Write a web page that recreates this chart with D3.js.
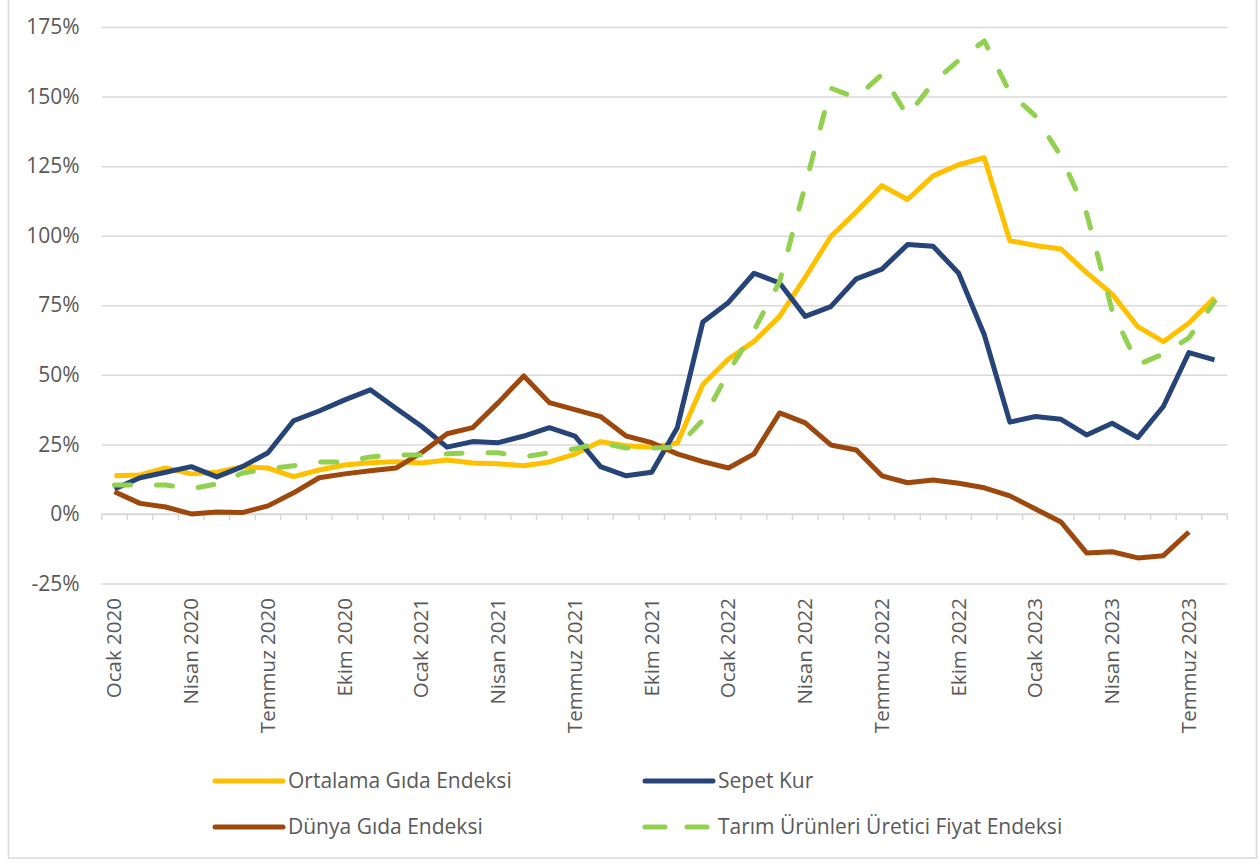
<!DOCTYPE html>
<html>
<head>
<meta charset="utf-8">
<script src="https://cdn.jsdelivr.net/npm/d3@7"></script>
<style>
  body { margin: 0; background: #fff; }
  text { font-family: "Open Sans", sans-serif; }
</style>
</head>
<body>
<div id="chart"></div>
<script>
const months = [
  "Ocak 2020", "Şubat 2020", "Mart 2020", "Nisan 2020", "Mayıs 2020", "Haziran 2020",
  "Temmuz 2020", "Ağustos 2020", "Eylül 2020", "Ekim 2020", "Kasım 2020", "Aralık 2020",
  "Ocak 2021", "Şubat 2021", "Mart 2021", "Nisan 2021", "Mayıs 2021", "Haziran 2021",
  "Temmuz 2021", "Ağustos 2021", "Eylül 2021", "Ekim 2021", "Kasım 2021", "Aralık 2021",
  "Ocak 2022", "Şubat 2022", "Mart 2022", "Nisan 2022", "Mayıs 2022", "Haziran 2022",
  "Temmuz 2022", "Ağustos 2022", "Eylül 2022", "Ekim 2022", "Kasım 2022", "Aralık 2022",
  "Ocak 2023", "Şubat 2023", "Mart 2023", "Nisan 2023", "Mayıs 2023", "Haziran 2023",
  "Temmuz 2023", "Ağustos 2023"
];
// labelled months on the axis
const tickLabels = ["Ocak 2020", "Nisan 2020", "Temmuz 2020", "Ekim 2020", "Ocak 2021", "Nisan 2021",
  "Temmuz 2021", "Ekim 2021", "Ocak 2022", "Nisan 2022", "Temmuz 2022", "Ekim 2022",
  "Ocak 2023", "Nisan 2023", "Temmuz 2023"];
const yTicks = [-25, 0, 25, 50, 75, 100, 125, 150, 175];

// yearly change, %
const ortalamaGida = [13.7, 14, 16.5, 14.4, 15, 17, 16.5, 13.4, 15.8, 17.6, 18.4, 18.8,
  18.3, 19.4, 18.3, 18, 17.3, 18.7, 21.5, 26, 24.5, 24, 25.5, 46.5,
  55.7, 62, 71, 85, 99.7, 108.6, 118, 113, 121.5, 125.5, 128, 98.2,
  96.5, 95.2, 86.7, 79, 67.3, 61.9, 68.6, 77.7];
const sepetKur = [9, 13, 15, 17, 13.3, 17, 22, 33.5, 37, 41, 44.6, 38,
  31.5, 24, 26, 25.6, 28, 31, 28, 17, 13.7, 15, 31, 69,
  76, 86.5, 83, 71, 74.5, 84.5, 88, 96.8, 96.2, 86.5, 64.4, 33,
  35, 34, 28.4, 32.6, 27.4, 38.6, 58, 55.4];
const dunyaGida = [8, 3.8, 2.5, 0, 0.7, 0.5, 2.9, 7.6, 13, 14.4, 15.5, 16.5,
  22, 28.8, 31, 40, 49.6, 40, 37.5, 35, 28, 25.6, 21.6, 18.8,
  16.5, 21.6, 36.3, 32.7, 24.8, 23, 13.7, 11.2, 12.2, 11, 9.4, 6.5,
  1.8, -2.9, -14, -13.6, -15.8, -15, -6.5, null];
const tarimUfe = [10.4, 10.4, 10.4, 9, 10.8, 14.7, 16.2, 17.3, 18.7, 18.7, 20.5, 21.2,
  21.2, 21.6, 22, 22, 20.5, 22, 23.4, 25.6, 23.7, 23.7, 24, 33.8,
  51, 66, 83.5, 118, 153, 149.6, 158, 143, 155, 163, 170, 151.4,
  143, 128.5, 108, 73, 53.6, 57.5, 63.3, 76.3];

const seriesNames = ["Ortalama Gıda Endeksi", "Sepet Kur", "Dünya Gıda Endeksi", "Tarım Ürünleri Üretici Fiyat Endeksi"];
const seriesValues = [ortalamaGida, sepetKur, dunyaGida, tarimUfe];
const seriesColors = ["#FFC000", "#264478", "#9E480E", "#92D050"];

const width = 1260, height = 862;
const plotLeft = 101.7, plotRight = 1227.3, plotTop = 27, plotBottom = 583.5;

const svg = d3.select("#chart").append("svg")
  .attr("width", width)
  .attr("height", height);

// chart frame
svg.append("rect")
  .attr("x", 8.5).attr("y", -2)
  .attr("width", 1248).attr("height", 860)
  .attr("fill", "none")
  .attr("stroke", "#d9d9d9")
  .attr("stroke-width", 1.5);

const x = d3.scaleBand().domain(months).range([plotLeft, plotRight]).padding(0);
const y = d3.scaleLinear().domain([-25, 175]).range([plotBottom, plotTop]);
const cx = m => x(m) + x.bandwidth() / 2;

// y axis + gridlines
const yAxis = svg.append("g")
  .attr("transform", `translate(${plotLeft},0)`)
  .call(d3.axisLeft(y)
    .tickValues(yTicks)
    .tickSize(-(plotRight - plotLeft))
    .tickPadding(22)
    .tickFormat(d => d + "%"));
yAxis.select(".domain").remove();
yAxis.selectAll(".tick line")
  .attr("stroke", "#d9d9d9")
  .attr("stroke-width", 1.5);
yAxis.selectAll(".tick text")
  .attr("fill", "#595959")
  .style("font-size", "21px");

// zero line with category tick marks
const zero = svg.append("g");
zero.append("line")
  .attr("x1", plotLeft).attr("x2", plotRight)
  .attr("y1", y(0)).attr("y2", y(0))
  .attr("stroke", "#d9d9d9").attr("stroke-width", 1.5);
zero.selectAll("line.tk")
  .data(months.map(m => x(m)).concat([plotRight]))
  .enter().append("line")
  .attr("class", "tk")
  .attr("x1", d => d).attr("x2", d => d)
  .attr("y1", y(0)).attr("y2", y(0) + 6)
  .attr("stroke", "#d9d9d9").attr("stroke-width", 1.5);

// x labels, rotated
svg.append("g").selectAll("text")
  .data(tickLabels)
  .enter().append("text")
  .attr("transform", d => `translate(${cx(d) + 7},598) rotate(-90)`)
  .attr("text-anchor", "end")
  .attr("fill", "#595959")
  .style("font-size", "20.5px")
  .text(d => d);

// lines
const line = d3.line()
  .defined(d => d.v != null)
  .x(d => cx(d.m))
  .y(d => y(d.v));

seriesValues.forEach((vals, i) => {
  const pts = months.map((m, j) => ({ m: m, v: vals[j] }));
  const p = svg.append("path")
    .datum(pts)
    .attr("d", line)
    .attr("fill", "none")
    .attr("stroke", seriesColors[i])
    .attr("stroke-width", 5)
    .attr("stroke-linejoin", "round");
  if (i === 3) {
    p.attr("stroke-dasharray", "16,26").attr("stroke-linecap", "round");
  }
});

// legend
const legendPos = [[213, 781], [643, 781], [213, 827], [643, 827]];
const legend = svg.append("g").selectAll("g")
  .data(seriesNames)
  .enter().append("g")
  .attr("transform", (d, i) => `translate(${legendPos[i][0]},${legendPos[i][1]})`);

legend.append("line")
  .attr("x1", 2).attr("x2", (d, i) => i === 3 ? 66 : 70)
  .attr("y1", 0).attr("y2", 0)
  .attr("stroke", (d, i) => seriesColors[i])
  .attr("stroke-width", 5)
  .attr("stroke-linecap", "round")
  .attr("stroke-dasharray", (d, i) => i === 3 ? "20,22" : null);

legend.append("text")
  .attr("x", 75)
  .attr("dy", "0.35em")
  .attr("fill", "#595959")
  .style("font-size", "21px")
  .text(d => d);
</script>
</body>
</html>
